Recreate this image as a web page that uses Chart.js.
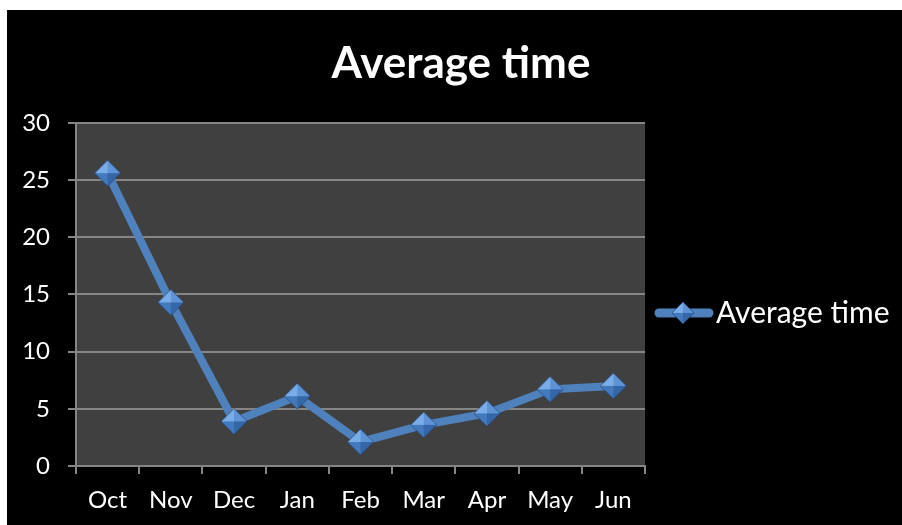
<!DOCTYPE html>
<html>
<head>
<meta charset="utf-8">
<script src="https://cdn.jsdelivr.net/npm/chart.js@4"></script>
<style>
  html, body { margin: 0; padding: 0; background: #ffffff; }
  #wrap { position: absolute; left: 7px; top: 10px; width: 895px; height: 515px; background: #000000; }
</style>
</head>
<body>
<div id="wrap"><canvas id="avgTime"></canvas></div>
<script>
const months = ['Oct', 'Nov', 'Dec', 'Jan', 'Feb', 'Mar', 'Apr', 'May', 'Jun'];
const averageTime = [25.6, 14.3, 3.9, 6.1, 2.1, 3.6, 4.6, 6.7, 7.0];
const yTicks = [0, 5, 10, 15, 20, 25, 30];

const lineColor = '#4f81bd';
const gridColor = '#868686';
const fontFamily = 'Lato, "Open Sans", sans-serif';

// diamant "biseauté" façon Office
function makeDiamond(half) {
    const s = half * 2 + 2;
    const c = document.createElement('canvas');
    c.width = s; c.height = s;
    const g = c.getContext('2d');
    const m = s / 2;
    const facet = (pts, col) => {
        g.beginPath();
        g.moveTo(pts[0][0], pts[0][1]);
        pts.slice(1).forEach(p => g.lineTo(p[0], p[1]));
        g.closePath();
        g.fillStyle = col;
        g.fill();
    };
    facet([[1, m], [m, 1], [m, m]], '#7aace8');
    facet([[m, 1], [s - 1, m], [m, m]], '#5e94d6');
    facet([[s - 1, m], [m, s - 1], [m, m]], '#3567a8');
    facet([[m, s - 1], [1, m], [m, m]], '#4379bd');
    g.beginPath();
    g.moveTo(1, m); g.lineTo(m, 1); g.lineTo(s - 1, m); g.lineTo(m, s - 1); g.closePath();
    g.strokeStyle = 'rgba(30,60,110,0.6)';
    g.lineWidth = 1;
    g.stroke();
    return c;
}

function makeLegendSymbol() {
    const c = document.createElement('canvas');
    c.width = 60; c.height = 26;
    const g = c.getContext('2d');
    g.strokeStyle = lineColor;
    g.lineWidth = 9;
    g.lineCap = 'round';
    g.beginPath();
    g.moveTo(5, 13); g.lineTo(55, 13);
    g.stroke();
    const d = makeDiamond(11);
    g.drawImage(d, 29 - d.width / 2, 13 - d.height / 2);
    return c;
}

const pointImg = makeDiamond(13);
const legendImg = makeLegendSymbol();

const plotBackground = {
    id: 'plotBackground',
    beforeDraw(chart) {
        const { ctx, chartArea: a } = chart;
        ctx.save();
        ctx.fillStyle = '#404040';
        ctx.fillRect(a.left, a.top, a.right - a.left, a.bottom - a.top);
        ctx.restore();
    }
};

// légende à droite : trait + losange, puis le libellé de la série
const sideLegend = {
    id: 'sideLegend',
    afterDraw(chart) {
        const { ctx, chartArea: a } = chart;
        const yc = (a.top + a.bottom) / 2 + 18.5;
        const x0 = a.right + 9;
        ctx.save();
        ctx.drawImage(legendImg, x0, yc - legendImg.height / 2);
        ctx.fillStyle = '#ffffff';
        ctx.font = `30px ${fontFamily}`;
        ctx.textBaseline = 'middle';
        ctx.textAlign = 'left';
        ctx.fillText(chart.data.datasets[0].label, x0 + legendImg.width + 2, yc);
        ctx.restore();
    }
};

new Chart(document.getElementById('avgTime').getContext('2d'), {
    type: 'line',
    data: {
        labels: months,
        datasets: [{
            label: 'Average time',
            data: averageTime,
            borderColor: lineColor,
            backgroundColor: lineColor,
            borderWidth: 8,
            tension: 0,
            pointStyle: pointImg,
            pointRadius: 13,
            pointHoverRadius: 13
        }]
    },
    options: {
        responsive: true,
        maintainAspectRatio: false,
        animation: false,
        layout: { padding: { left: 13, right: 0, top: 0, bottom: 0 } },
        scales: {
            x: {
                offset: true,
                grid: { display: true, drawOnChartArea: false, offset: true, color: gridColor, lineWidth: 2, tickLength: 8 },
                border: { color: gridColor, width: 2 },
                ticks: { color: '#ffffff', padding: 12, font: { family: fontFamily, size: 24 } },
                afterFit: (scale) => { scale.height = 59; }
            },
            y: {
                min: 0,
                max: 30,
                afterBuildTicks: (scale) => { scale.ticks = yTicks.map(v => ({ value: v })); },
                grid: { color: gridColor, lineWidth: 2, tickLength: 8 },
                border: { color: gridColor, width: 2 },
                ticks: { color: '#ffffff', padding: 18, font: { family: fontFamily, size: 24 } },
                afterFit: (scale) => { scale.width = 56; }
            },
            // axe vide à droite : réserve la place de la légende
            legendSpace: {
                type: 'linear',
                position: 'right',
                display: true,
                grid: { display: false, drawTicks: false },
                border: { display: false },
                ticks: { display: false },
                afterFit: (scale) => { scale.width = 257; }
            }
        },
        plugins: {
            title: {
                display: true,
                text: 'Average time',
                color: '#ffffff',
                font: { family: fontFamily, size: 44, weight: 'bold' },
                padding: { top: 27, bottom: 33 }
            },
            legend: { display: false },
            tooltip: { enabled: false }
        }
    },
    plugins: [plotBackground, sideLegend]
});
</script>
</body>
</html>
